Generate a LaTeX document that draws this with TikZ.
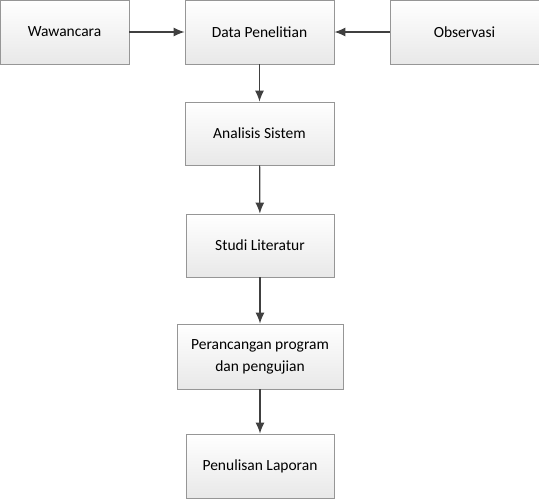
\documentclass[tikz,border=0pt]{standalone}
\usepackage{fontspec}
\setmainfont{Carlito}
\usetikzlibrary{arrows.meta}
\definecolor{boxline}{RGB}{150,150,150}
\definecolor{arrowline}{RGB}{64,64,64}
\tikzset{
  stepbox/.style={draw=boxline, line width=0.8pt, top color=white, bottom color=black!9,
    align=center, font=\fontsize{15.5}{22}\selectfont, inner sep=0pt},
  flow/.style={draw=arrowline, line width=1.2pt, -{Latex[length=11pt,width=9pt]}}
}
\begin{document}
\begin{tikzpicture}[x=1pt,y=-1pt]
	\useasboundingbox (0,0) rectangle (539,499);
	\node [stepbox, minimum width=129pt, minimum height=64pt] (wawancara) at (64.5,32) {Wawancara};
	\node [stepbox, minimum width=149pt, minimum height=64pt] (data) at (259.5,32) {Data Penelitian};
	\node [stepbox, minimum width=149pt, minimum height=64pt] (observasi) at (464.5,32) {Observasi};
	\node [stepbox, minimum width=149pt, minimum height=63pt] (analisis) at (259.5,133.5) {Analisis Sistem};
	\node [stepbox, minimum width=148pt, minimum height=63pt] (studi) at (260,245.5) {Studi Literatur};
	\node [stepbox, minimum width=166pt, minimum height=65pt] (perancangan) at (260,356.5) {Perancangan program\\dan pengujian};
	\node [stepbox, minimum width=148pt, minimum height=64pt] (penulisan) at (260,466) {Penulisan Laporan};
	\draw [flow] (wawancara) -- (data);
	\draw [flow] (observasi) -- (data);
	\draw [flow] (data) -- (analisis);
	\draw [flow] (analisis) -- (studi);
	\draw [flow] (studi) -- (perancangan);
	\draw [flow] (perancangan) -- (penulisan);
\end{tikzpicture}
\end{document}
